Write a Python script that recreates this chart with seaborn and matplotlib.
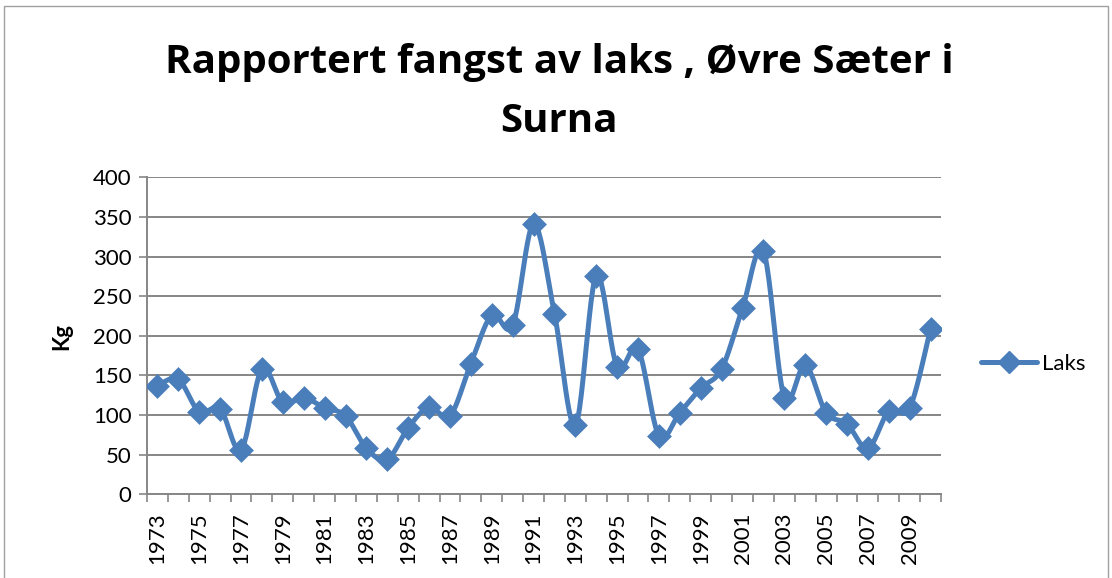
import numpy as np
import pandas as pd
import matplotlib
matplotlib.use("Agg")
import matplotlib.pyplot as plt
import seaborn as sns
from matplotlib.lines import Line2D

# Reported salmon catch (kg) per year
years = list(range(1973, 2011))
laks_kg = [137, 145, 104, 108, 56, 158, 116, 122, 109, 99,
           58, 44, 84, 110, 99, 165, 226, 213, 341, 228,
           87, 276, 161, 183, 74, 103, 134, 158, 235, 307,
           122, 163, 103, 89, 58, 105, 109, 209]
title_lines = ["Rapportert fangst av laks , Øvre Sæter i", "Surna"]
y_label = "Kg"
series_name = "Laks"
y_ticks = [0, 50, 100, 150, 200, 250, 300, 350, 400]

LINE_BLUE = "#4A7EBB"
GRID_GREY = "#868686"
W, H = 1112, 578


def smooth_curve(x, y, steps=24):
    """Bezier smoothing through every point (Excel-style smoothed line)."""
    x = np.asarray(x, float)
    y = np.asarray(y, float)
    pts = np.column_stack([x, y])
    n = len(pts)
    out = []
    for i in range(n - 1):
        p0 = pts[max(i - 1, 0)]
        p1 = pts[i]
        p2 = pts[i + 1]
        p3 = pts[min(i + 2, n - 1)]
        c1 = p1 + (p2 - p0) / 6.0
        c2 = p2 - (p3 - p1) / 6.0
        t = np.linspace(0, 1, steps, endpoint=(i == n - 2))[:, None]
        seg = ((1 - t) ** 3) * p1 + 3 * ((1 - t) ** 2) * t * c1 \
            + 3 * (1 - t) * t ** 2 * c2 + t ** 3 * p2
        out.append(seg)
    out = np.vstack(out)
    return out[:, 0], out[:, 1]


sns.set_theme(style="white")
plt.rcParams["font.family"] = ["Lato", "DejaVu Sans"]
plt.rcParams["text.color"] = "black"

fig = plt.figure(figsize=(W / 100, H / 100), dpi=100)
ax = fig.add_axes([147 / W, 1 - 494.3 / H, (941 - 147) / W, (494.3 - 177.3) / H])

pos = np.arange(len(years))
df = pd.DataFrame({"pos": pos, "kg": laks_kg})
sx, sy = smooth_curve(df["pos"], df["kg"])
curve = pd.DataFrame({"pos": sx, "kg": sy})

sns.lineplot(data=curve, x="pos", y="kg", ax=ax, color=LINE_BLUE,
             linewidth=3.6, sort=False, estimator=None, zorder=3)
sns.scatterplot(data=df, x="pos", y="kg", ax=ax, marker="D", s=160,
                color=LINE_BLUE, edgecolor=LINE_BLUE, linewidth=0, zorder=4)

ax.set_xlim(-0.5, len(years) - 0.5)
ax.set_ylim(0, 400)
ax.set_yticks(y_ticks)
ax.set_yticklabels([str(v) for v in y_ticks])
ax.yaxis.grid(True, color=GRID_GREY, linewidth=1.4)
ax.xaxis.grid(False)
ax.set_axisbelow(True)

label_pos = pos[::2]
ax.set_xticks(label_pos)
ax.set_xticklabels([str(years[i]) for i in label_pos], rotation=90)
ax.set_xticks(np.arange(-0.5, len(years)), minor=True)
ax.tick_params(axis="x", which="major", length=0, pad=13, labelsize=16,
               labelcolor="black")
ax.tick_params(axis="x", which="minor", length=6, width=1.2,
               color=GRID_GREY, direction="out", bottom=True)
ax.tick_params(axis="y", which="major", length=6, width=1.2,
               color=GRID_GREY, direction="out", left=True, pad=5,
               labelsize=16, labelcolor="black")

for side in ["top", "right"]:
    ax.spines[side].set_visible(False)
for side in ["left", "bottom"]:
    ax.spines[side].set_color(GRID_GREY)
    ax.spines[side].set_linewidth(1.4)

ax.set_xlabel("")
ax.set_ylabel(y_label, fontsize=16, fontweight="bold", color="black")
ax.yaxis.set_label_coords(62 / W, 1 - 336 / H, transform=fig.transFigure)
ax.yaxis.label.set_va("center")

# two-line chart title
for text, baseline_px in zip(title_lines, [73, 132]):
    fig.text(0.503, 1 - baseline_px / H, text, ha="center", va="baseline",
             fontsize=29, fontweight="bold", color="black",
             family=["Open Sans", "DejaVu Sans"])

handle = Line2D([0], [0], color=LINE_BLUE, linewidth=3.6, marker="D",
                markersize=11, markerfacecolor=LINE_BLUE,
                markeredgecolor=LINE_BLUE)
fig.legend([handle], [series_name], loc="center left",
           bbox_to_anchor=(961 / W, 1 - 364 / H), frameon=False, fontsize=16,
           handlelength=2.5, handletextpad=0.25, labelcolor="black")

# thin frame around the chart area
frame = plt.Rectangle((4 / W, -0.01), 1104 / W, 1 - 6 / H + 0.01,
                      transform=fig.transFigure, fill=False,
                      edgecolor="#A0A0A0", linewidth=1.0)
fig.patches.append(frame)

fig.savefig("out.png", dpi=100)
